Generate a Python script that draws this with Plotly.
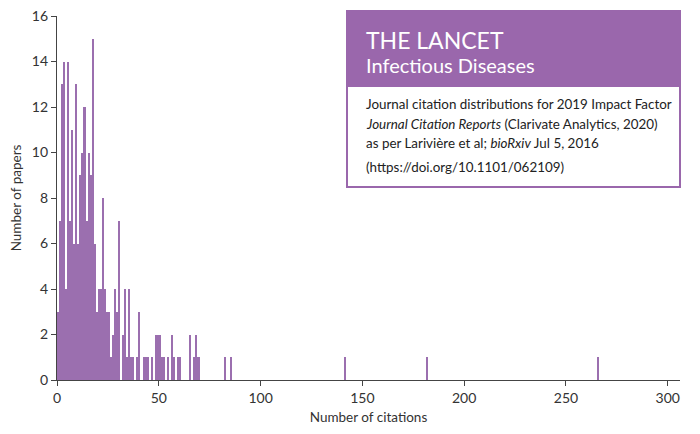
import plotly.graph_objects as go

# citations per paper (bin = one citation) and how many papers had it
citations = list(range(0, 71)) + [82, 85, 141, 181, 265]
papers = [3, 7, 13, 14, 4, 14, 7, 11, 6, 13,
          6, 9, 10, 12, 7, 10, 9, 15, 6, 3,
          4, 4, 8, 4, 3, 3, 1, 2, 4, 3,
          7, 0, 2, 4, 1, 4, 1, 1, 0, 1,
          3, 0, 1, 1, 1, 0, 1, 0, 2, 2,
          2, 1, 1, 0, 1, 0, 2, 1, 0, 1,
          1, 0, 0, 0, 0, 2, 0, 1, 2, 1,
          0] + [1, 1, 1, 1, 1]

x_ticks = [0, 50, 100, 150, 200, 250, 300]
y_ticks = [0, 2, 4, 6, 8, 10, 12, 14, 16]

bar_col = "#9b6faf"
head_col = "#9a67ac"
axis_col = "#444444"
font = "Lato"

fig = go.Figure()
fig.add_trace(go.Bar(
    x=citations, y=papers, width=1, offset=0,
    marker=dict(color=bar_col, line=dict(width=0)),
    hoverinfo="x+y",
))

# page body adds 8px, so margins are shifted to compensate
fig.update_layout(
    width=700, height=434,
    margin=dict(l=49, r=28, t=8, b=62),
    paper_bgcolor="white", plot_bgcolor="white",
    showlegend=False, bargap=0,
    font=dict(family=font, size=14, color="#333333"),
)
fig.update_xaxes(
    range=[0, 306], tickvals=x_ticks, ticks="outside", ticklen=5,
    tickcolor=axis_col, showline=True, linecolor=axis_col, linewidth=1.2,
    showgrid=False, zeroline=False, automargin=False, ticklabeloverflow="allow",
    title=dict(text="Number of citations", standoff=7, font=dict(size=13.5)),
)
fig.update_yaxes(
    range=[0, 16], tickvals=y_ticks, ticks="outside", ticklen=5,
    tickcolor=axis_col, showline=True, linecolor=axis_col, linewidth=1.2,
    showgrid=False, zeroline=False, automargin=False, ticklabeloverflow="allow",
    title=dict(text="Number of papers", standoff=8, font=dict(size=13.5)),
)

# Lancet box, top right
fig.add_shape(type="rect", xref="paper", yref="paper",
              x0=0.4655, x1=1.0, y0=0.530, y1=1.0137,
              line=dict(color=head_col, width=2), fillcolor="white", layer="above")
fig.add_shape(type="rect", xref="paper", yref="paper",
              x0=0.4655, x1=1.0, y0=0.8077, y1=1.0137,
              line=dict(color=head_col, width=2), fillcolor=head_col, layer="above")

fig.add_annotation(text="THE LANCET", xref="paper", yref="paper",
                   x=0.493, y=0.934, xanchor="left", yanchor="middle", showarrow=False,
                   font=dict(family=font, size=23, color="white"))
fig.add_annotation(text="Infectious Diseases", xref="paper", yref="paper",
                   x=0.493, y=0.866, xanchor="left", yanchor="middle", showarrow=False,
                   font=dict(family=font, size=20, color="white"))

lines = [
    ("Journal citation distributions for 2019 Impact Factor", 0.758),
    ("<i>Journal Citation Reports</i> (Clarivate Analytics, 2020)", 0.704),
    ("as per Larivière et al; <i>bioRxiv</i> Jul 5, 2016", 0.651),
    ("(https://doi.org/10.1101/062109)", 0.585),
]
for txt, yy in lines:
    fig.add_annotation(text=txt, xref="paper", yref="paper",
                       x=0.493, y=yy, xanchor="left", yanchor="middle", showarrow=False,
                       font=dict(family=font, size=13.4, color="#222222"))

fig.write_html("out.html")
